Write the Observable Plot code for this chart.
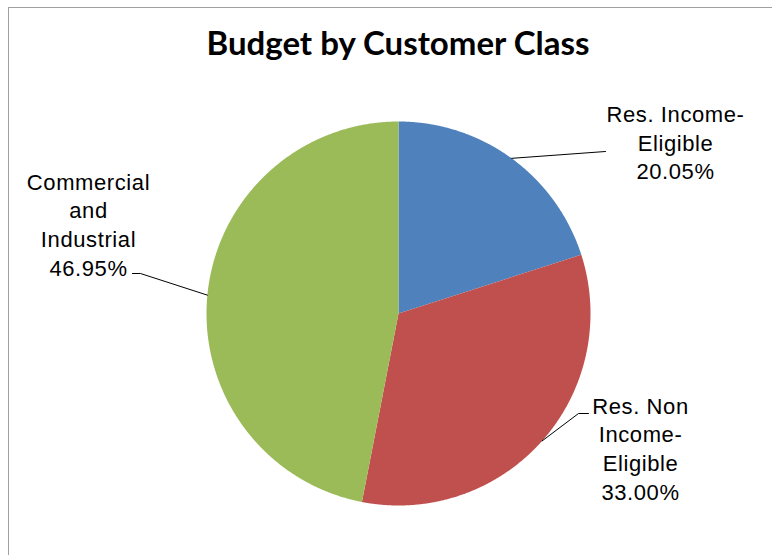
<!DOCTYPE html>
<html><head><meta charset="utf-8">
<script src="https://cdn.jsdelivr.net/npm/d3@7"></script>
<script src="https://cdn.jsdelivr.net/npm/@observablehq/plot@0.6"></script>
<style>
html,body{margin:0;padding:0;background:#fff;}
#wrap{position:relative;width:772px;height:555px;overflow:hidden;background:#fff;}
#border{position:absolute;left:8px;top:7px;width:900px;height:900px;border:1px solid #a0a0a0;box-sizing:border-box;}
#title{position:absolute;left:0;width:796px;top:22px;text-align:center;font-family:Lato,"Liberation Sans",sans-serif;font-weight:700;font-size:33px;color:#000;}
#chart{position:absolute;left:0;top:0;}
</style></head>
<body><div id="wrap"><div id="border"></div><div id="chart"></div><div id="title"></div></div>
<script>
// ---- data ----
const titleText = "Budget by Customer Class";
const categories = ["Res. Income-Eligible", "Res. Non Income-Eligible", "Commercial and Industrial"];
const labelNames = [["Res. Income-", "Eligible"], ["Res. Non", "Income-", "Eligible"], ["Commercial", "and", "Industrial"]];
const values = [20.05, 33.00, 46.95];
const colors = ["#4F81BD", "#C0504D", "#9BBB59"];

// ---- layout ----
const W = 772, H = 555;
const cx = 398, cy = 313, R = 192;
const labelPos = [{x: 675, y: 141}, {x: 640, y: 447}, {x: 88, y: 223}];
const leaderEnds = [[[605, 151]], [[578, 413], [588, 413]], [[140, 273], [132, 273]]];

document.getElementById("title").textContent = titleText;

const arcs = d3.pie().sort(null).startAngle(0).endAngle(2 * Math.PI)(values);
const pt = (a, r) => ({x: cx + r * Math.sin(a), y: cy - r * Math.cos(a)});

const sliceMarks = arcs.map((a, i) => {
  const n = Math.max(2, Math.ceil((a.endAngle - a.startAngle) / (Math.PI / 720)));
  const pts = [pt(0, 0)];
  for (let k = 0; k <= n; k++) pts.push(pt(a.startAngle + (a.endAngle - a.startAngle) * k / n, R));
  pts.push(pt(0, 0));
  return Plot.line(pts, {x: "x", y: "y", fill: colors[i], stroke: "none"});
});

const leaderMarks = arcs.map((a, i) => {
  const mid = pt((a.startAngle + a.endAngle) / 2, R);
  const pts = [mid, ...leaderEnds[i].map(([x, y]) => ({x, y}))];
  return Plot.line(pts, {x: "x", y: "y", stroke: "#000", strokeWidth: 1});
});

const labels = arcs.map((a, i) => ({
  x: labelPos[i].x, y: labelPos[i].y,
  text: [...labelNames[i], values[i].toFixed(2) + "%"].join("\n")
}));

const chart = Plot.plot({
  width: W, height: H, margin: 0,
  x: {domain: [0, W], range: [0, W], axis: null},
  y: {domain: [0, H], range: [0, H], axis: null},
  style: {background: "transparent", fontFamily: "'Liberation Sans', Arial, sans-serif"},
  marks: [
    ...sliceMarks,
    ...leaderMarks,
    Plot.text(labels, {x: "x", y: "y", text: "text", fontSize: 22, lineHeight: 1.3, fill: "#000", textAnchor: "middle"})
  ]
});
d3.select(chart).selectAll("text").style("letter-spacing", "0.6px");
document.getElementById("chart").appendChild(chart);
</script>
</body></html>
